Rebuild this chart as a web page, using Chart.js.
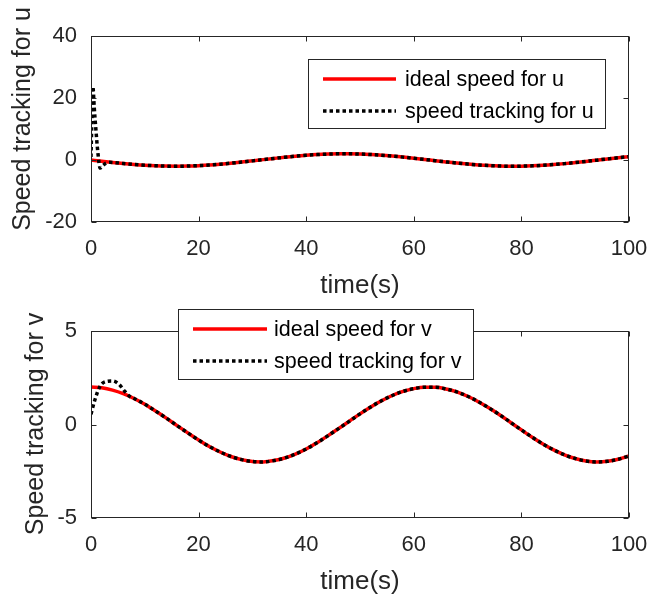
<!DOCTYPE html>
<html>
<head>
<meta charset="utf-8">
<script src="https://cdn.jsdelivr.net/npm/chart.js@4.4.1/dist/chart.umd.min.js"></script>
<style>
    html, body { margin: 0; padding: 0; background: #fff; }
    #wrap { position: relative; width: 667px; height: 595px; }
    canvas { position: absolute; left: 0; }
</style>
</head>
<body>
<div id="wrap">
    <canvas id="chartU" width="667" height="300" style="top:0"></canvas>
    <canvas id="chartV" width="667" height="295" style="top:300px"></canvas>
</div>
<script>
// Data
const timeIdeal = [0,2,4,6,8,10,12,14,16,18,20,22,24,26,28,30,32,34,36,38,40,42,44,46,48,50,
    52,54,56,58,60,62,64,66,68,70,72,74,76,78,80,82,84,86,88,90,92,94,96,98,100];

const idealU = [0,-0.40,-0.78,-1.13,-1.43,-1.68,-1.86,-1.97,-2.00,-1.95,-1.82,-1.62,-1.35,-1.03,-0.67,-0.28,
    0.12,0.51,0.89,1.22,1.51,1.74,1.90,1.99,1.99,1.92,1.77,1.55,1.26,0.93,0.56,0.17,
    -0.23,-0.62,-0.99,-1.31,-1.59,-1.80,-1.94,-2.00,-1.98,-1.88,-1.71,-1.47,-1.17,-0.82,-0.45,-0.05,
    0.35,0.73,1.09];

const idealV = [2.00,1.96,1.84,1.65,1.39,1.08,0.72,0.34,-0.06,-0.45,-0.83,-1.18,-1.47,-1.71,-1.88,-1.98,
    -2.00,-1.93,-1.79,-1.58,-1.31,-0.98,-0.61,-0.22,0.17,0.57,0.94,1.27,1.55,1.77,1.92,1.99,
    1.99,1.90,1.74,1.51,1.22,0.88,0.51,0.11,-0.29,-0.68,-1.04,-1.36,-1.62,-1.82,-1.95,-2.00,
    -1.97,-1.86,-1.68];

// start-up transient of the tracking curves (afterwards they sit on the ideal curve)
const transientTimeU = [0,0.15,0.35,0.6,0.9,1.3,1.7,2.2,2.8,3.5,4];
const transientU = [1.0,12,23.6,17,10,2,-2.6,-1.8,-1.0,-0.75,-0.78];
const transientTimeV = [0,0.7,1.7,2.8,4,5.2,6.2,7.2];
const transientV = [0.55,1.3,2.05,2.3,2.33,2.15,1.8,1.5];

const xTicks = [0,20,40,60,80,100];
const yTicksU = [-20,0,20,40];
const yTicksV = [-5,0,5];

const FONT = "Arial, 'Liberation Sans', Helvetica, sans-serif";
const AXIS_COLOR = '#262626';

function trackPoints(tt, tv, ideal) {
    const pts = tt.map((t, i) => ({ x: t, y: tv[i] }));
    const last = tt[tt.length - 1];
    timeIdeal.forEach((t, i) => {
        if (t > last) pts.push({ x: t, y: ideal[i] });
    });
    return pts;
}

function idealPoints(ideal) {
    return timeIdeal.map((t, i) => ({ x: t, y: ideal[i] }));
}

// frame, inward ticks, legend box and axis titles (MATLAB look)
const matlabPlugin = {
    id: 'matlab',
    afterDatasetsDraw(chart, args, opts) {
        const { ctx, chartArea: a, scales: { x, y } } = chart;
        ctx.save();
        ctx.strokeStyle = AXIS_COLOR;
        ctx.lineWidth = 1;
        const L = Math.round(a.left) + 0.5, R = Math.round(a.right) - 0.5;
        const T = Math.round(a.top) + 0.5, B = Math.round(a.bottom) - 0.5;
        ctx.strokeRect(L, T, R - L, B - T);
        ctx.beginPath();
        x.ticks.forEach(t => {
            const px = Math.round(x.getPixelForValue(t.value)) + 0.5;
            ctx.moveTo(px, B); ctx.lineTo(px, B - 5);
            ctx.moveTo(px, T); ctx.lineTo(px, T + 5);
        });
        y.ticks.forEach(t => {
            const py = Math.round(y.getPixelForValue(t.value)) + 0.5;
            ctx.moveTo(L, py); ctx.lineTo(L + 5, py);
            ctx.moveTo(R, py); ctx.lineTo(R - 5, py);
        });
        ctx.stroke();

        // legend
        const lg = opts.legend;
        ctx.fillStyle = '#fff';
        ctx.fillRect(lg.x, lg.y, lg.w, lg.h);
        ctx.strokeStyle = AXIS_COLOR;
        ctx.strokeRect(lg.x + 0.5, lg.y + 0.5, lg.w, lg.h);
        const order = [1, 0];
        order.forEach((di, row) => {
            const ds = chart.data.datasets[di];
            const ry = lg.y + lg.rowY[row];
            ctx.beginPath();
            ctx.strokeStyle = ds.borderColor;
            ctx.lineWidth = ds.borderWidth;
            ctx.setLineDash(ds.borderDash || []);
            ctx.moveTo(lg.x + lg.lineX0, ry);
            ctx.lineTo(lg.x + lg.lineX1, ry);
            ctx.stroke();
            ctx.setLineDash([]);
            ctx.fillStyle = '#000';
            ctx.font = '21.5px ' + FONT;
            ctx.textAlign = 'left';
            ctx.textBaseline = 'middle';
            ctx.fillText(ds.label, lg.x + lg.textX, ry + 1);
        });

        // axis titles
        ctx.fillStyle = AXIS_COLOR;
        ctx.font = '26px ' + FONT;
        ctx.textAlign = 'center';
        ctx.textBaseline = 'middle';
        ctx.fillText(opts.xTitle, (a.left + a.right) / 2, opts.xTitleY);
        ctx.font = '25px ' + FONT;
        ctx.translate(opts.yTitleX, opts.yTitleY);
        ctx.rotate(-Math.PI / 2);
        ctx.fillText(opts.yTitle, 0, 0);
        ctx.restore();
    }
};

function makeChart(id, cfg) {
    return new Chart(document.getElementById(id), {
        type: 'line',
        data: {
            datasets: [
                {
                    label: cfg.trackLabel,
                    data: cfg.track,
                    borderColor: '#000',
                    borderWidth: 3.5,
                    borderDash: [3.5, 3],
                    borderCapStyle: 'butt',
                    pointRadius: 0,
                    cubicInterpolationMode: 'monotone',
                    order: 0
                },
                {
                    label: cfg.idealLabel,
                    data: cfg.ideal,
                    borderColor: '#ff0000',
                    borderWidth: 3.5,
                    pointRadius: 0,
                    cubicInterpolationMode: 'monotone',
                    order: 1
                }
            ]
        },
        options: {
            responsive: false,
            animation: false,
            events: [],
            layout: { padding: { top: cfg.top, right: 38, left: 0, bottom: 0 } },
            plugins: {
                legend: { display: false },
                tooltip: { enabled: false },
                matlab: {
                    legend: cfg.legend,
                    xTitle: 'time(s)',
                    xTitleY: cfg.xTitleY,
                    yTitle: cfg.yTitle,
                    yTitleX: cfg.yTitleX,
                    yTitleY: cfg.yTitleY
                }
            },
            scales: {
                x: {
                    type: 'linear',
                    min: 0,
                    max: 100,
                    grid: { display: false, drawTicks: false },
                    border: { display: false },
                    ticks: { font: { family: FONT, size: 22 }, color: AXIS_COLOR, padding: 14, maxRotation: 0 },
                    afterBuildTicks: s => { s.ticks = xTicks.map(v => ({ value: v })); },
                    afterFit: s => { s.height = cfg.xHeight; }
                },
                y: {
                    type: 'linear',
                    min: cfg.yTicks[0],
                    max: cfg.yTicks[cfg.yTicks.length - 1],
                    grid: { display: false, drawTicks: false },
                    border: { display: false },
                    ticks: { font: { family: FONT, size: 22 }, color: AXIS_COLOR, padding: 14 },
                    afterBuildTicks: s => { s.ticks = cfg.yTicks.map(v => ({ value: v })); },
                    afterFit: s => { s.width = 91; }
                }
            }
        },
        plugins: [matlabPlugin]
    });
}

makeChart('chartU', {
    top: 36,
    xHeight: 78,
    yTicks: yTicksU,
    ideal: idealPoints(idealU),
    track: trackPoints(transientTimeU, transientU, idealU),
    idealLabel: 'ideal speed for u',
    trackLabel: 'speed tracking for u',
    yTitle: 'Speed tracking for u',
    yTitleX: 23,
    yTitleY: 119,
    xTitleY: 286,
    legend: { x: 308, y: 59, w: 297, h: 69, rowY: [20, 52], lineX0: 15, lineX1: 88, textX: 97 }
});

makeChart('chartV', {
    top: 31,
    xHeight: 77,
    yTicks: yTicksV,
    ideal: idealPoints(idealV),
    track: trackPoints(transientTimeV, transientV, idealV),
    idealLabel: 'ideal speed for v',
    trackLabel: 'speed tracking for v',
    yTitle: 'Speed tracking for v',
    yTitleX: 36,
    yTitleY: 124,
    xTitleY: 282,
    legend: { x: 178, y: 9, w: 295, h: 70, rowY: [20, 52], lineX0: 15, lineX1: 89, textX: 96 }
});
</script>
</body>
</html>
